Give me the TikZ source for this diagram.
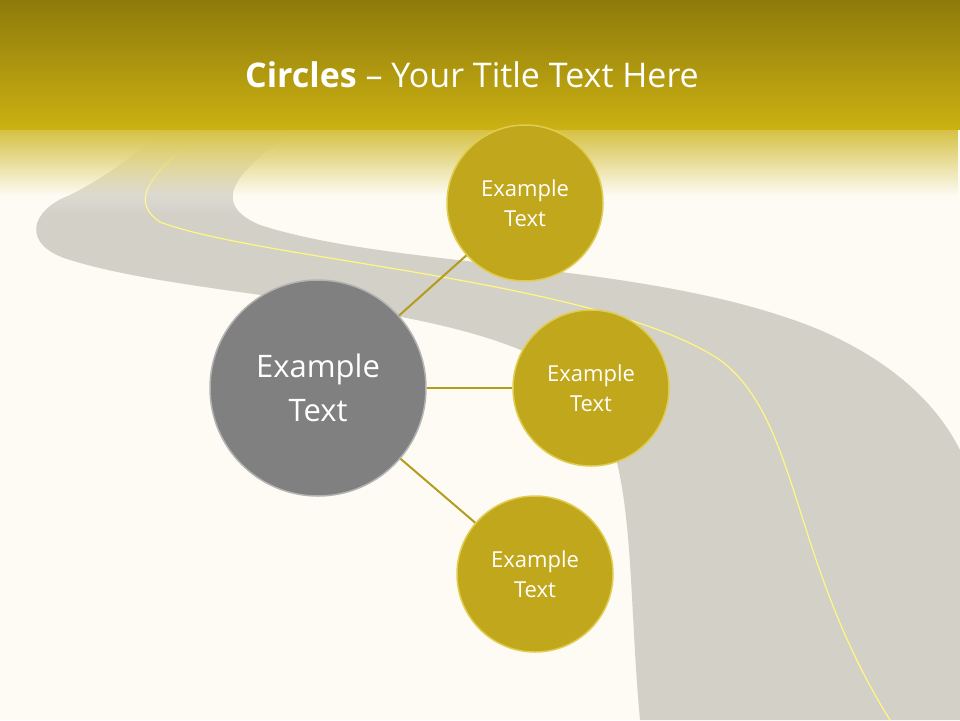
\documentclass[tikz,border=0pt]{standalone}
\usepackage{fontspec}
\setmainfont{Open Sans}
\usetikzlibrary{fadings}
\definecolor{cream}{HTML}{FDFBF3}
\definecolor{oliveA}{HTML}{8E7A0B}
\definecolor{oliveB}{HTML}{CBB112}
\definecolor{roadc}{HTML}{D3D0C8}
\definecolor{ylw}{HTML}{C1A71B}
\definecolor{ylwL}{HTML}{E0CC50}
\definecolor{gry}{HTML}{808080}
\definecolor{lnk}{HTML}{B39C1C}
\tikzset{
 ycirc/.style={circle,minimum size=156pt,inner sep=0pt,align=center,text=white,font=\fontsize{22}{30}\selectfont,
   draw=ylwL,line width=1.5pt,fill=ylw},
 gcirc/.style={circle,minimum size=216pt,inner sep=0pt,align=center,text=white,font=\fontsize{31}{44}\selectfont,
   draw=gry!60!white,line width=1.5pt,fill=gry},
 link/.style={draw=lnk,line width=2pt}
}
\begin{document}
\begin{tikzpicture}[x=1pt,y=-1pt]
\useasboundingbox (0,0) rectangle (960,720);
\fill[cream] (0,0) rectangle (960,720);
% road
\fill[roadc] (305,125) .. controls (250,160) and (200,200) .. (260,225)
  .. controls (400,270) and (650,260) .. (820,330)
  .. controls (900,365) and (940,410) .. (960,450)
  -- (960,720) -- (640,720)
  .. controls (625,560) and (640,420) .. (560,370)
  .. controls (450,300) and (200,300) .. (70,260)
  .. controls (20,245) and (30,210) .. (70,195)
  .. controls (120,170) and (150,140) .. (170,125) -- cycle;
\draw[yellow!50!white,line width=1.2pt] (210,125) .. controls (170,160) and (120,195) .. (160,222)
  .. controls (260,260) and (600,280) .. (720,360)
  .. controls (800,420) and (790,560) .. (890,720);
\fill[cream,path fading=south] (0,128) rectangle (960,215);
\fill[oliveB!80!cream,path fading=south] (0,128) rectangle (960,195);
\shade[top color=oliveA,bottom color=oliveB] (0,0) rectangle (960,129);
% title
\node[text=white,font=\fontsize{34}{40}\selectfont] (title) at (472,75) {\textbf{Circles} -- Your Title Text Here};
% circles
\node[gcirc] (c) at (318,388) {Example\\Text};
\node[ycirc] (a) at (525,203) {Example\\Text};
\node[ycirc] (b) at (591,388) {Example\\Text};
\node[ycirc] (d) at (535,574) {Example\\Text};
\draw[link] (c) -- (a);
\draw[link] (c) -- (b);
\draw[link] (c) -- (d);
\end{tikzpicture}
\end{document}
